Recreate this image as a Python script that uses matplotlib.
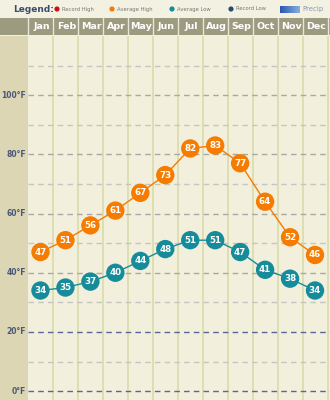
import matplotlib.pyplot as plt
import numpy as np

# Monthly temperatures (°F)
months = ['Jan', 'Feb', 'Mar', 'Apr', 'May', 'Jun', 'Jul', 'Aug', 'Sep', 'Oct', 'Nov', 'Dec']
avg_high = [47, 51, 56, 61, 67, 73, 82, 83, 77, 64, 52, 46]
avg_low = [34, 35, 37, 40, 44, 48, 51, 51, 47, 41, 38, 34]
major_ticks = [0, 20, 40, 60, 80, 100]
minor_ticks = [10, 30, 50, 70, 90, 110]

W, H = 330, 400
fig = plt.figure(figsize=(W / 100, H / 100), dpi=100)
fig.patch.set_facecolor('#f3f1e2')

ORANGE = '#f57c00'
TEAL = '#168c9a'
CREAM = '#f2efdc'
TAN = '#dcd6b4'
HEADER = '#9c9b80'
LABEL = '#4a5878'

left = 28 / W
top = 36 / H
ylo, yhi = -3, 120
xlo, xhi = -0.5, 11.6

# main plot
ax = fig.add_axes([left, 0, 1 - left, 1 - top])
ax.set_facecolor(CREAM)
ax.set_xlim(xlo, xhi)
ax.set_ylim(ylo, yhi)
for s in ax.spines.values():
    s.set_visible(False)
ax.set_xticks([])
ax.set_yticks([])

for k in range(len(months)):
    ax.axvline(k + 0.5, color='#d8dcaa', lw=1.2, zorder=1)
for v in minor_ticks:
    ax.axhline(v, color='#c6c6c0', lw=1, ls=(0, (4, 3)), zorder=2)
for v in major_ticks:
    c = '#5a6496' if v in (0, 20) else '#a8a8a4'
    ax.axhline(v, color=c, lw=1, ls=(0, (4, 3)), zorder=2)

x = np.arange(len(months))
ax.plot(x, avg_high, color=ORANGE, lw=1, zorder=3)
ax.plot(x, avg_low, color=TEAL, lw=1, zorder=3)
ax.scatter(x, avg_high, s=175, color=ORANGE, edgecolors='none', zorder=4)
ax.scatter(x, avg_low, s=175, color=TEAL, edgecolors='none', zorder=4)
for xi, h, l in zip(x, avg_high, avg_low):
    ax.text(xi, h, str(h), color='white', fontsize=6.3, fontweight='bold',
            ha='center', va='center', zorder=5)
    ax.text(xi, l, str(l), color='white', fontsize=6.3, fontweight='bold',
            ha='center', va='center', zorder=5)

# left label column
axl = fig.add_axes([0, 0, left, 1 - top])
axl.set_ylim(ylo, yhi)
axl.set_xlim(0, 28)
axl.axis('off')
axl.add_patch(plt.Rectangle((0, ylo), 28, yhi - ylo, color=TAN))
for v in major_ticks:
    axl.text(26, v, f'{v}°F', color=LABEL, fontsize=5.5, fontweight='bold',
             ha='right', va='center')

# header bar
axh = fig.add_axes([0, (H - 35) / H, 1, 17 / H])
axh.set_xlim(0, W)
axh.set_ylim(0, 1)
axh.axis('off')
axh.add_patch(plt.Rectangle((0, 0), W, 1, color=HEADER))
colw = (W - 28) / (xhi - xlo)
for k, m in enumerate(months):
    cx = 28 + (k - xlo) * colw
    axh.text(cx + 1, 0.48, m, color='white', fontsize=6.8, fontweight='bold',
             ha='center', va='center')
    bx = 28 + (k + 0.5 - xlo) * colw
    axh.plot([bx, bx], [0, 1], color='#e8e6d6', lw=1)
axh.plot([28, 28], [0, 1], color='#e8e6d6', lw=1)

# legend row
axg = fig.add_axes([0, (H - 18) / H, 1, 18 / H])
axg.set_xlim(0, W)
axg.set_ylim(0, 18)
axg.axis('off')
axg.text(13, 9, 'Legend:', color='#3c4c6c', fontsize=6.5, fontweight='bold',
         ha='left', va='center')
legend_items = [('Record High', '#cc1111', 57), ('Average High', '#f57c00', 112),
                ('Average Low', '#168c9a', 172), ('Record Low', '#2c4a6a', 231)]
for name, col, px in legend_items:
    axg.scatter([px], [9], s=14, color=col, edgecolors='none')
    axg.text(px + 5, 9, name, color='#777777', fontsize=3.8, ha='left', va='center')
grad = np.linspace(0, 1, 50).reshape(1, -1)
axg.imshow(grad, cmap=plt.matplotlib.colors.LinearSegmentedColormap.from_list(
    'p', ['#2a56b0', '#8aaee0']), extent=(280, 300, 5, 12), aspect='auto')
axg.text(302, 9, 'Precip', color='#8898b0', fontsize=5, ha='left', va='center')
axg.set_xlim(0, W)
axg.set_ylim(0, 18)

fig.savefig('out.png', dpi=100, facecolor=fig.get_facecolor())
